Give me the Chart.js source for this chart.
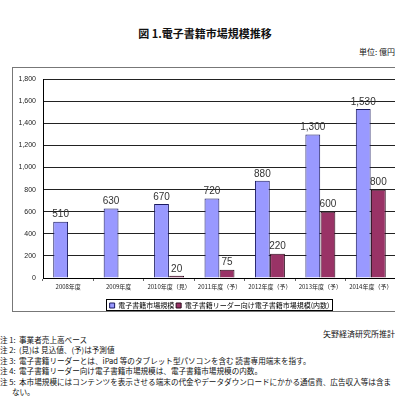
<!DOCTYPE html>
<html><head><meta charset="utf-8">
<script src="https://cdn.jsdelivr.net/npm/chart.js@4"></script>
<style>
html,body{margin:0;padding:0;background:#fff;overflow:hidden;width:395px;height:399px;}
body{position:relative;font-family:"Noto Sans CJK JP","Noto Sans",sans-serif;color:#111;}
#title{position:absolute;left:0;width:410px;top:25px;text-align:center;font-size:11px;font-weight:bold;}
#unit{position:absolute;right:0px;top:46px;font-size:8px;}
#box{position:absolute;left:12px;top:67px;width:390px;height:245px;border:1px solid #777;box-sizing:border-box;}
#box canvas{display:block;}
#src{position:absolute;right:0;top:328px;font-size:8px;}
#notes{position:absolute;left:0;top:335px;font-size:7.6px;line-height:10.4px;white-space:nowrap;}
</style></head>
<body>
<div id="title">図 1.電子書籍市場規模推移</div>
<div id="unit">単位: 億円</div>
<div id="box"><canvas id="c" width="388" height="243"></canvas></div>
<div id="src">矢野経済研究所推計</div>
<div id="notes">注 1:&nbsp; 事業者売上高ベース<br>注 2:&nbsp; (見)は 見込値、(予)は予測値<br>注 3:&nbsp; 電子書籍リーダーとは、iPad 等のタブレット型パソコンを含む 読書専用端末を指す。<br>注 4:&nbsp; 電子書籍リーダー向け電子書籍市場規模は、電子書籍市場規模の内数。<br>注 5:&nbsp; 本市場規模にはコンテンツを表示させる端末の代金やデータダウンロードにかかる通信費、広告収入等は含ま<br>&nbsp;&nbsp;&nbsp;&nbsp;&nbsp;&nbsp;&nbsp;ない。</div>
<script>
const categories = ["2008年度","2009年度","2010年度（見）","2011年度（予）","2012年度（予）","2013年度（予）","2014年度（予）"];
const marketTotal = [510, 630, 670, 720, 880, 1300, 1530];
const readerMarket = [null, null, 20, 75, 220, 600, 800];
const seriesNames = ["電子書籍市場規模", "電子書籍リーダー向け電子書籍市場規模(内数)"];
const yTicks = [0,200,400,600,800,1000,1200,1400,1600,1800];

const fmt = v => v.toLocaleString('en-US');

const labelPlugin = {
  id:'valueLabels',
  afterDatasetsDraw(chart){
    const ctx = chart.ctx;
    ctx.save();
    ctx.font = '10px "Liberation Sans", Arial, sans-serif';
    ctx.fillStyle = '#333';
    ctx.textAlign = 'center';
    ctx.textBaseline = 'bottom';
    chart.data.datasets.forEach((ds, di) => {
      const meta = chart.getDatasetMeta(di);
      meta.data.forEach((el, i) => {
        const v = ds.data[i];
        if (v == null) return;
        ctx.fillText(fmt(v), el.x, el.y - 2);
      });
    });
    ctx.restore();
  }
};
const legendBox = {
  id:'legendBox',
  beforeLayout(chart){
    const l = chart.legend;
    if(l && !l._patched){
      const f = l.fit;
      l.fit = function(){ f.call(this); this.height = 11; };
      l._patched = true;
    }
  },
  afterDraw(chart){
    const l = chart.legend;
    if(!l || !l.legendHitBoxes.length) return;
    const ctx = chart.ctx;
    ctx.save();
    ctx.strokeStyle = '#000';
    ctx.lineWidth = 1;
    let w = 0;
    l.legendHitBoxes.forEach(b=>{w = Math.max(w, b.left + b.width);});
    const hb = l.legendHitBoxes[0];
    const x0 = Math.round(hb.left) - 3.5;
    const x1 = Math.round(w) + 3.5;
    const y0 = Math.round(hb.top) - 2.5;
    ctx.strokeRect(x0, y0, x1 - x0, Math.round(hb.height) + 4);
    ctx.restore();
  }
};

new Chart(document.getElementById('c'), {
  type:'bar',
  data:{
    labels: categories,
    datasets:[
      {label: seriesNames[0], data: marketTotal, backgroundColor:'#9999FF', borderColor:'#1a1a60', borderWidth:1, borderSkipped:'bottom'},
      {label: seriesNames[1], data: readerMarket, backgroundColor:'#993366', borderColor:'#2a0a1a', borderWidth:1, borderSkipped:'bottom'}
    ]
  },
  plugins:[labelPlugin, legendBox],
  options:{
    responsive:false,
    animation:false,
    devicePixelRatio:1,
    layout:{padding:{left:0,right:5,top:11,bottom:0}},
    datasets:{bar:{categoryPercentage:0.6, barPercentage:0.98}},
    plugins:{
      tooltip:{enabled:false},
      legend:{
        position:'bottom',
        fullSize:false,
        labels:{
          boxWidth:5, boxHeight:5, padding:2,
          color:'#000',
          font:{size:7, family:'"Noto Sans CJK JP", sans-serif'}
        }
      }
    },
    scales:{
      x:{
        afterFit(axis){ axis.height = 22; },
        grid:{display:true, drawOnChartArea:false, offset:true, tickLength:3, color:'#666'},
        border:{color:'#000'},
        ticks:{color:'#222', padding:2, maxRotation:0, autoSkip:false, font:{size:6, family:'"Noto Sans CJK JP", sans-serif'}}
      },
      y:{
        min:0, max:1800,
        afterBuildTicks(axis){ axis.ticks = yTicks.map(v=>({value:v})); },
        afterFit(axis){ axis.width = 30; },
        grid:{color:'#222', drawTicks:false},
        border:{color:'#000'},
        ticks:{color:'#222', padding:7, font:{size:7, family:'"Liberation Sans", Arial, sans-serif'}, callback:v=>fmt(v)}
      }
    }
  }
});
</script>
</body></html>
